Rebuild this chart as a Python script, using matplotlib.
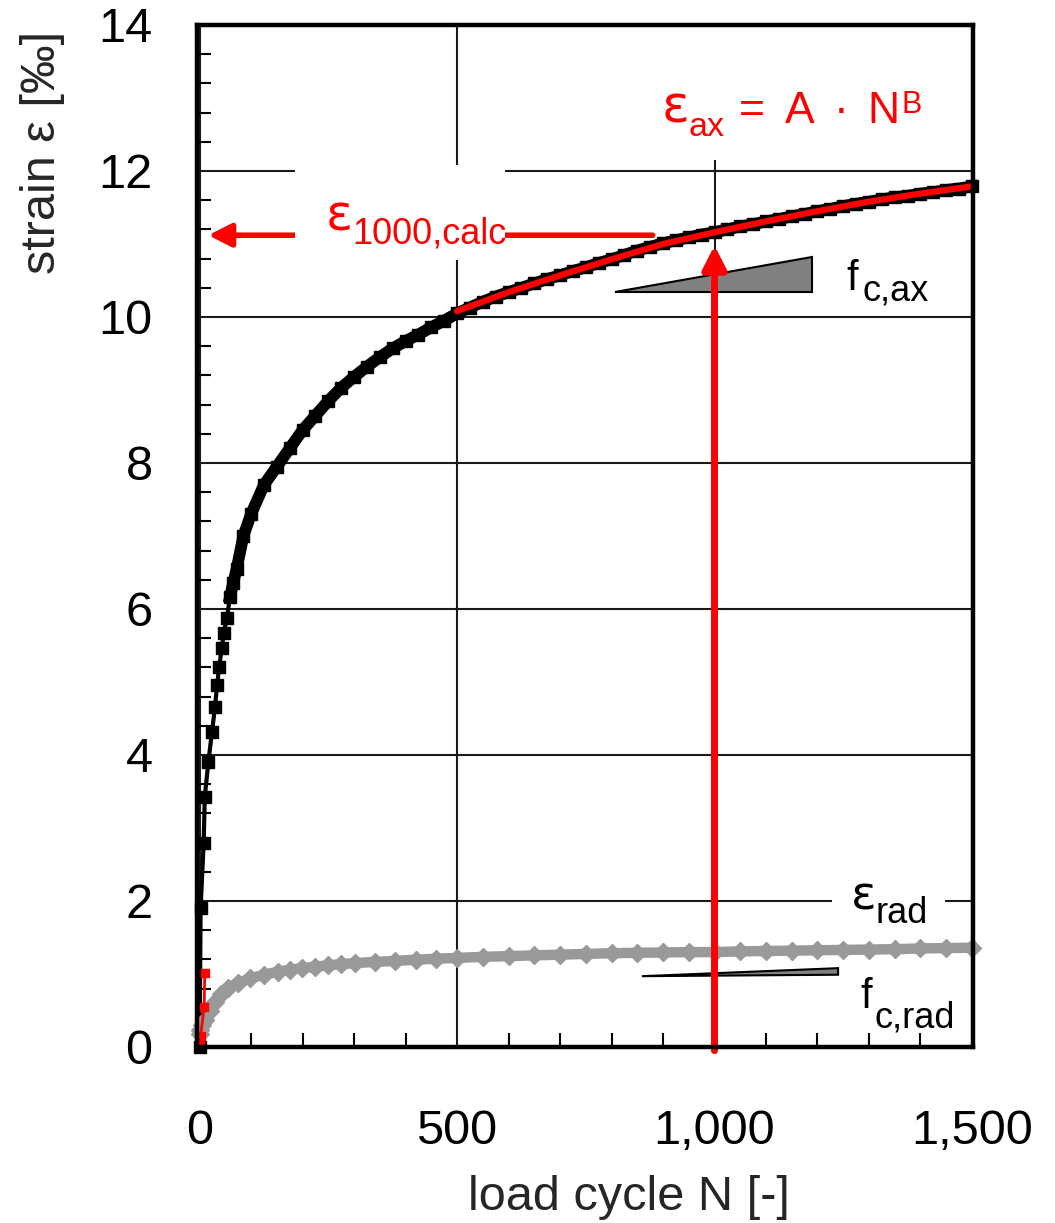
import matplotlib
matplotlib.use('Agg')
import matplotlib.pyplot as plt
import numpy as np
from matplotlib import font_manager
from matplotlib.patches import Polygon, Rectangle
from matplotlib.ticker import MultipleLocator, FuncFormatter

plt.rcParams['font.family'] = ['Liberation Sans', 'DejaVu Sans']
try:
    font_manager.findfont('Liberation Sans Narrow', fallback_to_default=False)
    NARROW, SUB = 'Liberation Sans Narrow', 30
except ValueError:
    NARROW, SUB = 'Liberation Sans', 26
EPS_FONT = 'DejaVu Sans'

# axial strain (black squares)
n_ax = [0, 2, 8, 10, 17, 24, 30, 34, 38, 43, 47, 53, 59, 65, 72, 85, 100,
        125, 150, 175, 200, 225, 250, 275, 300, 325, 350, 375, 400, 425, 450,
        475, 500, 525, 550, 575, 600, 625, 650, 675, 700, 725, 750, 775, 800,
        825, 850, 875, 900, 925, 950, 975, 1000, 1025, 1050, 1075, 1100, 1125,
        1150, 1175, 1200, 1225, 1250, 1275, 1300, 1325, 1350, 1375, 1400, 1425,
        1450, 1475, 1500]
eps_ax = [0.0, 1.9, 2.8, 3.42, 3.9, 4.31, 4.66, 4.96, 5.2, 5.46, 5.67, 5.88,
          6.16, 6.35, 6.55, 7.0, 7.3, 7.7, 7.95, 8.2, 8.45, 8.65, 8.85, 9.03,
          9.18, 9.32, 9.45, 9.57, 9.67, 9.76, 9.86, 9.95, 10.05, 10.13, 10.21,
          10.28, 10.34, 10.40, 10.46, 10.52, 10.57, 10.63, 10.68, 10.74, 10.79,
          10.85, 10.91, 10.96, 11.01, 11.05, 11.09, 11.13, 11.16, 11.20, 11.24,
          11.27, 11.31, 11.34, 11.38, 11.41, 11.45, 11.48, 11.52, 11.55, 11.58,
          11.61, 11.64, 11.66, 11.69, 11.71, 11.74, 11.76, 11.79]

# radial strain (grey diamonds)
n_rad = [0, 1, 5, 11, 20, 30, 42, 55, 75, 98, 125, 152, 175, 199, 225, 250,
         275, 302, 340, 380, 420, 460, 500, 550, 600, 650, 700, 750, 800, 850,
         900, 950, 1000, 1050, 1100, 1150, 1200, 1250, 1300, 1350, 1400, 1450,
         1500]
eps_rad = [0.18, 0.23, 0.3, 0.37, 0.5, 0.62, 0.72, 0.81, 0.88, 0.94, 0.99,
           1.03, 1.06, 1.08, 1.10, 1.12, 1.135, 1.15, 1.165, 1.18, 1.195, 1.21,
           1.22, 1.235, 1.245, 1.255, 1.265, 1.275, 1.285, 1.29, 1.295, 1.30,
           1.30, 1.31, 1.315, 1.32, 1.325, 1.33, 1.335, 1.34, 1.35, 1.355, 1.36]

# fitted power law (red line)
n_fit = [500, 600, 700, 800, 900, 1000, 1100, 1200, 1300, 1400, 1500]
eps_fit = [10.08, 10.34, 10.57, 10.79, 11.0, 11.16, 11.31, 11.45, 11.58,
           11.69, 11.79]

# red start points near N = 0
n_red = [0, 2, 9, 10]
eps_red = [0.07, 0.15, 0.55, 1.01]

n_calc = 1000
eps_calc = 11.12

tri_ax = [(807, 10.34), (1189, 10.34), (1189, 10.82)]
tri_rad = [(859, 0.97), (1240, 1.08), (1240, 0.99)]

fig = plt.figure(figsize=(10.55, 12.23), dpi=100)
ax = fig.add_axes([197 / 1055, 1 - 1047 / 1223, 776 / 1055, 1022 / 1223])

ax.set_xlim(-5, 1502)
ax.set_ylim(0, 14)

# data
ax.plot(n_ax, eps_ax, color='black', lw=3, marker='s', ms=8, zorder=3,
        clip_on=False)
n_a = np.array(n_ax)
e_a = np.array(eps_ax)
ax.plot(n_a[n_a >= 55], e_a[n_a >= 55], color='black', lw=8.5, zorder=3,
        clip_on=False)
ax.plot(n_rad, eps_rad, color='#999999', lw=7.5, marker='D', ms=9, zorder=3,
        clip_on=False)
ax.plot(n_fit, eps_fit, color='red', lw=4.5, zorder=4, clip_on=False,
        solid_capstyle='round')
ax.plot(n_red, eps_red, color='red', lw=2, marker='s', ms=6, zorder=4,
        clip_on=False)

# triangles
ax.add_patch(Polygon(tri_ax, closed=True, fc='#808080', ec='black', lw=1.5,
                     zorder=4))
ax.add_patch(Polygon(tri_rad, closed=True, fc='#808080', ec='black', lw=1.5,
                     zorder=4))

# arrows
ax.annotate('', xy=(17, eps_calc), xytext=(880, eps_calc),
            arrowprops=dict(arrowstyle='-|>,head_length=0.55,head_width=0.28',
                            color='red', lw=4, shrinkA=0, shrinkB=0,
                            mutation_scale=25), zorder=1.6)
ax.annotate('', xy=(n_calc, 10.98), xytext=(n_calc, -0.05),
            arrowprops=dict(arrowstyle='-|>,head_length=0.55,head_width=0.28',
                            color='red', lw=5, shrinkA=0, shrinkB=0,
                            mutation_scale=25), zorder=5, annotation_clip=False)

# white boxes behind labels
for x0, y0, w, h in [(185, 10.78, 408, 1.30), (880, 12.15, 550, 1.85),
                     (1228, 1.62, 220, 0.7)]:
    ax.add_patch(Rectangle((x0, y0), w, h, fc='white', ec='none', zorder=1.8))

# labels
kw = dict(va='baseline', zorder=6)
ax.text(298, 11.19, 'ε', color='red', fontsize=36, ha='right',
        family=EPS_FONT, **kw)
ax.text(296, 11.01, '1000,calc', color='red', fontsize=SUB, family=NARROW,
        ha='left', **kw)

ax.text(951, 12.66, 'ε', color='red', fontsize=37, ha='right',
        family=EPS_FONT, **kw)
ax.text(949, 12.48, 'ax', color='red', fontsize=24.5, ha='left', **kw)
ax.text(1048, 12.66, '=', color='red', fontsize=32, ha='left', **kw)
ax.text(1137, 12.66, 'A', color='red', fontsize=32, ha='left', **kw)
ax.text(1246, 12.66, '·', color='red', fontsize=32, ha='center', **kw)
ax.text(1296, 12.66, 'N', color='red', fontsize=32, ha='left', **kw)
ax.text(1364, 12.79, 'B', color='red', fontsize=22, ha='left', **kw)

ax.text(1257, 10.37, 'f', color='black', fontsize=30, ha='left', **kw)
ax.text(1288, 10.22, 'c,ax', color='black', fontsize=SUB, family=NARROW,
        ha='left', **kw)

ax.text(1314, 1.88, 'ε', color='black', fontsize=34, ha='right',
        family=EPS_FONT, **kw)
ax.text(1312, 1.70, 'rad', color='black', fontsize=SUB, family=NARROW,
        ha='left', **kw)

ax.text(1283, 0.53, 'f', color='black', fontsize=30, ha='left', **kw)
ax.text(1310, 0.27, 'c,rad', color='black', fontsize=SUB, family=NARROW,
        ha='left', **kw)

# axes styling
ax.xaxis.set_major_locator(MultipleLocator(500))
ax.xaxis.set_minor_locator(MultipleLocator(100))
ax.yaxis.set_major_locator(MultipleLocator(2))
ax.yaxis.set_minor_locator(MultipleLocator(0.4))
ax.xaxis.set_major_formatter(FuncFormatter(lambda v, p: f'{v:,.0f}'))
ax.tick_params(which='both', direction='in', width=1.5, colors='black')
ax.tick_params(which='major', length=0, labelsize=35)
ax.tick_params(which='minor', length=10)
ax.tick_params(axis='x', which='major', pad=45)
ax.tick_params(axis='y', which='major', pad=32)
ax.grid(which='major', color='#1a1a1a', lw=1.5)
for s in ax.spines.values():
    s.set_linewidth(3.2)
    s.set_zorder(5)

ax.set_xlabel('load cycle N [-]', fontsize=35, color='#262626')
ax.xaxis.set_label_coords(0.557, -0.125)
ax.set_ylabel('strain ε [‰]', fontsize=35, color='#262626')
ax.yaxis.set_label_coords(-0.17, 0.875)

fig.savefig('out.png', dpi=100)
